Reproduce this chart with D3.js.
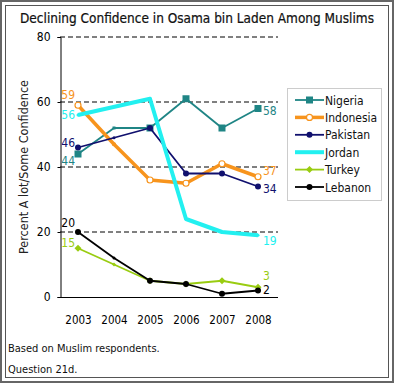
<!DOCTYPE html>
<html><head><meta charset="utf-8">
<script src="https://cdn.jsdelivr.net/npm/d3@7"></script>
<style>body{margin:0;background:#fff}svg{display:block}text{font-family:"DejaVu Sans Condensed","DejaVu Sans",sans-serif}</style>
</head><body><svg id="c" width="394" height="383"></svg>
<script>
const years = [2003, 2004, 2005, 2006, 2007, 2008];
const yTicks = [0, 20, 40, 60, 80];
const nigeria   = [44, 52, 52, 61, 52, 58];
const indonesia = [59, 47, 36, 35, 41, 37];
const pakistan  = [46, 49, 52, 38, 38, 34];
const jordan    = [56, null, 61, 24, 20, 19];
const turkey    = [15, 10, 5, 4, 5, 3];
const lebanon   = [20, 12, 5, 4, 1, 2];
const seriesNames = ["Nigeria", "Indonesia", "Pakistan", "Jordan", "Turkey", "Lebanon"];

const styles = {
  Nigeria:   {color:"#1f8585", w:1.8, marker:"square", fill:"#1f8585"},
  Indonesia: {color:"#f7941d", w:3.5, marker:"circle", fill:"#fff"},
  Pakistan:  {color:"#10106e", w:1.8, marker:"circle", fill:"#10106e"},
  Jordan:    {color:"#22f0f0", w:4, marker:"circle", fill:"#22f0f0"},
  Turkey:    {color:"#99cc11", w:1.8, marker:"diamond", fill:"#99cc11"},
  Lebanon:   {color:"#000", w:1.8, marker:"circle", fill:"#000"}
};
const data = [nigeria, indonesia, pakistan, jordan, turkey, lebanon];
const startLabels = [
  {s:"Indonesia", v:59, dy:-6}, {s:"Jordan", v:56, dy:4}, {s:"Pakistan", v:46, dy:-1},
  {s:"Nigeria", v:44, dy:11}, {s:"Lebanon", v:20, dy:-5}, {s:"Turkey", v:15, dy:-1}];
const endLabels = [
  {s:"Nigeria", v:58, dy:2}, {s:"Indonesia", v:37, dy:-6}, {s:"Pakistan", v:34, dy:2},
  {s:"Jordan", v:19, dy:6}, {s:"Turkey", v:3, dy:-11}, {s:"Lebanon", v:2, dy:-1}];

const svg = d3.select("#c");
// frame
svg.append("rect").attr("x",1).attr("y",1).attr("width",392).attr("height",381).attr("fill","none").attr("stroke","#666").attr("stroke-width",2);
svg.append("rect").attr("x",5.5).attr("y",5.5).attr("width",383).attr("height",372).attr("fill","none").attr("stroke","#555").attr("stroke-width",1);

svg.append("text").attr("x",197).attr("y",23).attr("text-anchor","middle").attr("font-size",13.5).attr("fill","#111")
  .attr("stroke","#111").attr("stroke-width",0.2)
  .text("Declining Confidence in Osama bin Laden Among Muslims");

const x = d3.scalePoint().domain(years).range([78, 258]);
const y = d3.scaleLinear().domain([0, 80]).range([297, 37]);

// gridlines
svg.append("g").selectAll("line").data(yTicks.filter(d=>d>0)).join("line")
  .attr("x1",60).attr("x2",278).attr("y1",d=>y(d)).attr("y2",d=>y(d))
  .attr("stroke","#000").attr("stroke-dasharray","5,3").attr("stroke-width",1);

// y axis
const ya = svg.append("g").attr("transform","translate(60.5,0)")
  .call(d3.axisLeft(y).tickValues(yTicks).tickSize(3).tickPadding(7));
ya.select(".domain").attr("stroke","#000");
ya.selectAll("text").attr("font-size",12).attr("fill","#000").style("font-family","'DejaVu Sans Condensed','DejaVu Sans',sans-serif");
// x axis
const xa = svg.append("g").attr("transform","translate(0,297.5)")
  .call(d3.axisBottom(x).tickSize(0).tickPadding(18));
xa.select(".domain").attr("d","M60,0H278").attr("stroke","#000");
xa.selectAll("text").attr("font-size",11.5).attr("fill","#000").style("font-family","'DejaVu Sans Condensed','DejaVu Sans',sans-serif");

svg.append("text").attr("transform","translate(28,167) rotate(-90)").attr("text-anchor","middle")
  .attr("font-size",12.5).attr("fill","#222").text("Percent A lot/Some Confidence");

const line = d3.line().x(d=>x(d.year)).y(d=>y(d.v));
const order = ["Nigeria","Indonesia","Pakistan","Turkey","Lebanon","Jordan"];
const drawMarker = (g, m, cx, cy, st, small) => {
  const r = small ? 1.5 : (m==="square" ? 3.5 : 3);
  if (m === "square") g.append("rect").attr("x",cx-r).attr("y",cy-r).attr("width",2*r).attr("height",2*r).attr("fill",st.color);
  else if (m === "diamond") g.append("path").attr("d",`M${cx},${cy-r-0.5}L${cx+r+0.5},${cy}L${cx},${cy+r+0.5}L${cx-r-0.5},${cy}Z`).attr("fill",st.color);
  else g.append("circle").attr("cx",cx).attr("cy",cy).attr("r",r).attr("fill",small?st.color:st.fill).attr("stroke",st.color).attr("stroke-width",st.fill==="#fff"?1.2:0);
};
order.forEach(name => {
  const i = seriesNames.indexOf(name);
  const st = styles[name];
  const pts = years.map((yr,j)=>({year:yr, v:data[i][j], j:j})).filter(p=>p.v!==null);
  const g = svg.append("g");
  g.append("path").datum(pts).attr("d",line).attr("fill","none").attr("stroke",st.color).attr("stroke-width",st.w).attr("stroke-linejoin","round");
  pts.forEach(p=>drawMarker(g, st.marker, x(p.year), y(p.v), st, p.j===1 || name==="Jordan"));
});

startLabels.forEach(l => svg.append("text").attr("x",75).attr("y",y(l.v)+l.dy).attr("text-anchor","end")
  .attr("font-size",12).attr("fill",styles[l.s].color).text(l.v));
endLabels.forEach(l => svg.append("text").attr("x",263).attr("y",y(l.v)+l.dy+4).attr("text-anchor","start")
  .attr("font-size",12).attr("fill",styles[l.s].color).text(l.v));

// legend
const lg = svg.append("g");
lg.append("rect").attr("x",287.5).attr("y",88.5).attr("width",94).attr("height",112).attr("fill","#fff").attr("stroke","#ccc");
seriesNames.forEach((name,i) => {
  const st = styles[name]; const yy = 100 + i*17.4;
  lg.append("line").attr("x1",295).attr("x2",324).attr("y1",yy).attr("y2",yy).attr("stroke",st.color).attr("stroke-width",st.w);
  if (name !== "Jordan") drawMarker(lg, st.marker, 309.5, yy, st, false);
  lg.append("text").attr("x",325).attr("y",yy+4.5).attr("font-size",12).attr("fill","#111").text(name);
});

svg.append("text").attr("x",8).attr("y",352).attr("font-size",11).attr("fill","#111").text("Based on Muslim respondents.");
svg.append("text").attr("x",8).attr("y",373).attr("font-size",11).attr("fill","#111").text("Question 21d.");
</script></body></html>
